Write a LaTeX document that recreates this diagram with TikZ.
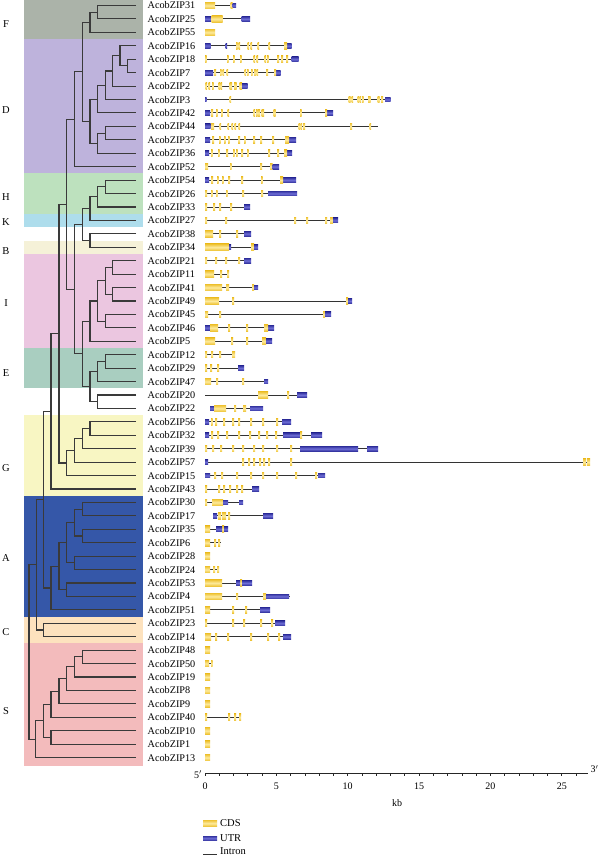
\documentclass[tikz,border=0pt]{standalone}
\usepackage{fontspec}
\setmainfont{Liberation Serif}
\definecolor{bF}{HTML}{ABB3A9}
\definecolor{bD}{HTML}{BEB3DC}
\definecolor{bH}{HTML}{BDE1BE}
\definecolor{bK}{HTML}{AEDDEC}
\definecolor{bB}{HTML}{F5F1D8}
\definecolor{bI}{HTML}{EBC6E0}
\definecolor{bE}{HTML}{A9CEC0}
\definecolor{bG}{HTML}{F8F6C3}
\definecolor{bA}{HTML}{3557A8}
\definecolor{bC}{HTML}{FDE2BE}
\definecolor{bS}{HTML}{F3BBBC}
\definecolor{treec}{HTML}{3A3A3A}
\definecolor{cdsD}{HTML}{EEC232}
\definecolor{cdsL}{HTML}{FDEA9C}
\definecolor{utrD}{HTML}{3434A0}
\definecolor{utrL}{HTML}{6E6ED6}
\newcommand\ry[1]{5.5+13.43*(#1)}
\newcommand\tn[3]{\coordinate (#1) at (#2,{\ry{#3}});}
\newcommand\tedge[3]{\draw[treeline] (#2) -| (#1) |- (#3);}
\newcommand\gintron[3]{\draw[intron] (#2,{\ry{#1}}) -- (#3,{\ry{#1}});}
\newcommand\gcds[2]{\foreach \xa/\xb in {#2}{\path[cdsbox] (\xa,{\ry{#1}-3.3}) rectangle (\xb,{\ry{#1}+3.3});}}
\newcommand\gutr[2]{\foreach \xa/\xb in {#2}{\path[utrbox] (\xa,{\ry{#1}-2.4}) rectangle (\xb,{\ry{#1}+2.4});}}
\newcommand\band[4]{\fill[#1] (23.5,#2) rectangle (143,#3); \node[cladelab] (cl#1) at (6,#4) {#1};}
\begin{document}
\begin{tikzpicture}[x=1pt,y=-1pt,
  treeline/.style={draw=treec,line width=1.1pt,line join=miter},
  intron/.style={draw=black!80,line width=0.9pt},
  cdsbox/.style={top color=cdsD,bottom color=cdsD,middle color=cdsL},
  utrbox/.style={top color=utrD,bottom color=utrD,middle color=utrL},
  genelab/.style={anchor=west,inner sep=0pt,font=\fontsize{10.2}{12}\selectfont},
  cladelab/.style={inner sep=0pt,font=\fontsize{10.5}{12}\selectfont},
  ticklab/.style={inner sep=0pt,font=\fontsize{10}{12}\selectfont},
  leglab/.style={anchor=west,inner sep=0pt,font=\fontsize{10.5}{12}\selectfont}]
\useasboundingbox (0,0) rectangle (600,860);
\fill[white] (0,0) rectangle (600,860);
% clade bands
\fill[bF] (23.5,0) rectangle (143,{\ry{2.5}});
\fill[bD] (23.5,{\ry{2.5}}) rectangle (143,{\ry{12.5}});
\fill[bH] (23.5,{\ry{12.5}}) rectangle (143,{\ry{15.5}});
\fill[bK] (23.5,{\ry{15.5}}) rectangle (143,{\ry{16.5}});
\fill[bB] (23.5,{\ry{17.5}}) rectangle (143,{\ry{18.5}});
\fill[bI] (23.5,{\ry{18.5}}) rectangle (143,{\ry{25.5}});
\fill[bE] (23.5,{\ry{25.5}}) rectangle (143,{\ry{28.5}});
\fill[bG] (23.5,{\ry{30.5}}) rectangle (143,{\ry{36.5}});
\fill[bA] (23.5,{\ry{36.5}}) rectangle (143,{\ry{45.5}});
\fill[bC] (23.5,{\ry{45.5}}) rectangle (143,{\ry{47.5}});
\fill[bS] (23.5,{\ry{47.5}}) rectangle (143,765.5);
\node[cladelab] (cF) at (6,24) {F};
\node[cladelab] (cD) at (6,110) {D};
\node[cladelab] (cH) at (6,197) {H};
\node[cladelab] (cK) at (6,222) {K};
\node[cladelab] (cB) at (6,251) {B};
\node[cladelab] (cI) at (6,303) {I};
\node[cladelab] (cE) at (6,373) {E};
\node[cladelab] (cG) at (6,468) {G};
\node[cladelab] (cA) at (6,558) {A};
\node[cladelab] (cC) at (6,632) {C};
\node[cladelab] (cS) at (6,711) {S};
% leaves
\foreach \nm [count=\i from 0] in {31,25,55,16,18,7,2,3,42,44,37,36,52,54,26,33,27,38,34,21,11,41,49,45,46,5,12,29,47,20,22,56,32,39,57,15,43,30,17,35,6,28,24,53,4,51,23,14,48,50,19,8,9,40,10,1,13}{
  \coordinate (l\i) at (136,{\ry{\i}});
  \node[genelab] (g\i) at (147.5,{\ry{\i}}) {AcobZIP\nm};
}
% internal nodes
\tn{a1}{97.7}{0.5} \tn{a2}{90}{1.25}
\tn{d1}{127.7}{4.5} \tn{d2}{120}{3.75} \tn{d3}{112.3}{4.875} \tn{d4}{105.7}{5.9375}
\tn{d5}{97.7}{6.96875} \tn{d6}{105.7}{9.5} \tn{d7}{97.7}{10.25} \tn{d8}{90}{8.609375}
\tn{fd}{82.7}{4.9296875} \tn{fdl}{74.3}{8.46484375}
\tn{h1}{105.7}{13.5} \tn{h2}{97.7}{14.25} \tn{hk}{90}{15.125} \tn{b1}{90}{17.5} \tn{hkb}{82.3}{16.3125}
\tn{i1}{112.3}{19.5} \tn{i2}{112.3}{21.5} \tn{i3}{105.7}{20.5} \tn{i4}{105.7}{23.5} \tn{i5}{97.7}{22} \tn{i6}{90}{23.5}
\tn{e1}{105.7}{26.5} \tn{e2}{97.7}{27.25} \tn{e3}{97.7}{29.5} \tn{e4}{90}{28.375}
\tn{ie}{82.3}{25.9375} \tn{hkbie}{74.3}{21.125} \tn{tp}{66.7}{14.794921875}
\tn{g1}{90}{31.5} \tn{g2}{82.3}{32.25} \tn{g3}{74.3}{33.125} \tn{g4}{66.7}{34.0625}
\tn{tg}{59}{24.4287109375} \tn{tft}{51}{30.21435546875}
\tn{p1}{82.3}{37.5} \tn{p2}{82.3}{39.5} \tn{p3}{74.3}{38.5} \tn{p4}{74.3}{41.5}
\tn{p5}{66.7}{40} \tn{p6}{66.7}{43.5} \tn{p7}{59}{41.75} \tn{p8}{51}{43.375}
\tn{ta}{43.3}{36.7947} \tn{c1}{43.3}{46.5} \tn{tac}{36.7}{41.6473}
\tn{s1}{82.3}{48.5} \tn{s2}{74.3}{49.25} \tn{s3}{66.7}{50.125} \tn{s4}{59}{51.0625}
\tn{s5}{51}{52.03125} \tn{s6}{51}{54.5} \tn{s7}{43.3}{53.265625} \tn{s8}{35.7}{54.6328125}
\tn{root}{29}{48.14}
% tree edges
\tedge{a1}{l0}{l1} \tedge{a2}{a1}{l2}
\tedge{d1}{l4}{l5} \tedge{d2}{l3}{d1} \tedge{d3}{d2}{l6} \tedge{d4}{d3}{l7} \tedge{d5}{d4}{l8}
\tedge{d6}{l9}{l10} \tedge{d7}{d6}{l11} \tedge{d8}{d5}{d7} \tedge{fd}{a2}{d8} \tedge{fdl}{fd}{l12}
\tedge{h1}{l13}{l14} \tedge{h2}{h1}{l15} \tedge{hk}{h2}{l16} \tedge{b1}{l17}{l18} \tedge{hkb}{hk}{b1}
\tedge{i1}{l19}{l20} \tedge{i2}{l21}{l22} \tedge{i3}{i1}{i2} \tedge{i4}{l23}{l24} \tedge{i5}{i3}{i4} \tedge{i6}{i5}{l25}
\tedge{e1}{l26}{l27} \tedge{e2}{e1}{l28} \tedge{e3}{l29}{l30} \tedge{e4}{e2}{e3}
\tedge{ie}{i6}{e4} \tedge{hkbie}{hkb}{ie} \tedge{tp}{fdl}{hkbie}
\tedge{g1}{l31}{l32} \tedge{g2}{g1}{l33} \tedge{g3}{g2}{l34} \tedge{g4}{g3}{l35}
\tedge{tg}{tp}{g4} \tedge{tft}{tg}{l36}
\tedge{p1}{l37}{l38} \tedge{p2}{l39}{l40} \tedge{p3}{p1}{p2} \tedge{p4}{l41}{l42}
\tedge{p5}{p3}{p4} \tedge{p6}{l43}{l44} \tedge{p7}{p5}{p6} \tedge{p8}{p7}{l45}
\tedge{ta}{tft}{p8} \tedge{c1}{l46}{l47} \tedge{tac}{ta}{c1}
\tedge{s1}{l48}{l49} \tedge{s2}{s1}{l50} \tedge{s3}{s2}{l51} \tedge{s4}{s3}{l52}
\tedge{s5}{s4}{l53} \tedge{s6}{l54}{l55} \tedge{s7}{s5}{s6} \tedge{s8}{s7}{l56}
\tedge{root}{tac}{s8}
% gene structures
\gintron{0}{205}{233} \gcds{0}{205/215,230.5/232.5} \gutr{0}{232.5/236}
\gintron{1}{205}{250} \gutr{1}{205/211.5,241.5/250} \gcds{1}{211.5/222.5}
\gcds{2}{205/215}
\gintron{3}{205}{291} \gutr{3}{205/210.5,225.5/227,287/291.5} \gcds{3}{236/237.5,238.5/240,247.5/249,250.5/252,257.5/259,268.5/270,284/287}
\gintron{4}{205}{298} \gcds{4}{205/206.5,227/228.5,233/234.5,240/241.5,253.5/255,256.5/258,264.5/266,267/268.5,277/279,281/283,286/288} \gutr{4}{291.5/298.5}
\gintron{5}{205}{280} \gutr{5}{205/213,276/280.5} \gcds{5}{214/216,220/221.5,222.5/224,226.5/228,244.5/246,247/248.5,251/252.5,254/256,256.5/258,266/268,274/276}
\gintron{6}{205}{247} \gcds{6}{205.5/207,208.5/210,212/213.5,218.5/220,220.5/222,229.5/232,234/236.5,239.5/242} \gutr{6}{242/247.5}
\gintron{7}{205}{390} \gutr{7}{205/206.5,385/390.5} \gcds{7}{229.5/231,348.5/350.5,351.5/353,357.5/359,359.5/361,362/363.5,368/370.5,377.5/379.5,381/383}
\gintron{8}{205}{333} \gutr{8}{205/210,327/333} \gcds{8}{211/213,216/217.5,221/222.5,227.5/229,253.5/255,256/257.5,258/260,261.5/264,273.5/275.5,300/301.5,325/327}
\gintron{9}{205}{378} \gutr{9}{205/210.5} \gcds{9}{211/214,219.5/221,227.5/229,231.5/233,234.5/236,238.5/240,298.5/300,300.5/302,303/305,350/352,369.5/371}
\gintron{10}{205}{296} \gutr{10}{205/210,289/296} \gcds{10}{212/214,219/220.5,224/225.5,228/229.5,238/240,244/245.5,253/255,260/262,272/274,285/289}
\gintron{11}{205}{292} \gutr{11}{205/209,287/292} \gcds{11}{211/212.5,218/219.5,226/228,233/234.5,236/237.5,241/243,247/248.5,268/270,277/279,284/287}
\gintron{12}{205}{279} \gcds{12}{205/208,230/231.5,260/262,270/272.5} \gutr{12}{272.5/279}
\gintron{13}{205}{296} \gutr{13}{205/209,283/296} \gcds{13}{211/213,217/218.5,222/223.5,228/230,241/243,261/262.5,280/283}
\gintron{14}{205}{297} \gcds{14}{205/207,211/212.5,216/217.5,226/227.5,242/244,261/263} \gutr{14}{268/297}
\gintron{15}{205}{250} \gcds{15}{205/207,213/215,219/221,230/232} \gutr{15}{244/250}
\gintron{16}{205}{338} \gcds{16}{205/207,225/227,294/296,306/308,325/327,330/333} \gutr{16}{333/338}
\gintron{17}{205}{251} \gcds{17}{205/213,219/221,236/238} \gutr{17}{244/251}
\gintron{18}{205}{258} \gcds{18}{205/229,251/254} \gutr{18}{229/231,254/258}
\gintron{19}{205}{251} \gcds{19}{205/207,215/217,225/227,238/240} \gutr{19}{244/251}
\gintron{20}{205}{229} \gcds{20}{205/214,220/222,227/229}
\gintron{21}{205}{258} \gcds{21}{205/222,226/229,252/254} \gutr{21}{254/258}
\gintron{22}{205}{352} \gcds{22}{205/219,232/234,346/348} \gutr{22}{348/352}
\gintron{23}{205}{331} \gcds{23}{205/208,219/221,323/325} \gutr{23}{325/331}
\gintron{24}{205}{274} \gutr{24}{205/210,268/274} \gcds{24}{210/218,228/230,246/248,264/268}
\gintron{25}{205}{272} \gcds{25}{205/215,231/233,246/248,262/266} \gutr{25}{266/272}
\gintron{26}{205}{235} \gcds{26}{205/207,211/213,219/221,232/235}
\gintron{27}{205}{244} \gcds{27}{205/207,210/212,217/219} \gutr{27}{238/244}
\gintron{28}{205}{268} \gcds{28}{205/211,216/218,242/244} \gutr{28}{264/268}
\gintron{29}{205}{307} \gcds{29}{258/268,287/289} \gutr{29}{297/307}
\gintron{30}{210}{263} \gutr{30}{210/214,250/263} \gcds{30}{214/226,234/236,243/246}
\gintron{31}{205}{291} \gutr{31}{205/209,282/291} \gcds{31}{211/212.5,215/217,223/225,232/234,238/240,250/252,262/264,276/278}
\gintron{32}{205}{322} \gutr{32}{205/209,283/300,311/322} \gcds{32}{211/213,217/219,226/228,238/240,249/251,258/260,266/268,275/277,300/302}
\gintron{33}{205}{378} \gcds{33}{205/207,212/214,220/222,232/234,242/244,253/255,262/264,276/278,290/292} \gutr{33}{300/358,367/378}
\gintron{34}{205}{590} \gutr{34}{205/208} \gcds{34}{242/244,248/250,253/255,259/261,263/265,268/270,290/292,583/586,587/590}
\gintron{35}{205}{325} \gutr{35}{205/210,318/325} \gcds{35}{214/216,221/223,236/238,250/252,262/264,276/278,295/297,315/317}
\gintron{36}{205}{259} \gcds{36}{205/207,218/220,223/225,229/231,236/238,241/243} \gutr{36}{252/259}
\gintron{37}{205}{243} \gcds{37}{205/207,212/223} \gutr{37}{223/228,239/243}
\gintron{38}{213}{273} \gutr{38}{213/217,263/273} \gcds{38}{218/221,222/226,228/230}
\gintron{39}{205}{228} \gcds{39}{205/210,222/224} \gutr{39}{216/222,224/228}
\gintron{40}{205}{221} \gcds{40}{205/210,214/216,218/220}
\gcds{41}{205/210}
\gintron{42}{205}{219} \gcds{42}{205/210,213/215,217/219}
\gintron{43}{205}{252} \gcds{43}{205/222,240/242} \gutr{43}{236/240,242/252}
\gintron{44}{205}{290} \gcds{44}{205/222,236/238,263/266} \gutr{44}{266/289}
\gintron{45}{205}{270} \gcds{45}{205/210,232/234,245/247} \gutr{45}{260/270}
\gintron{46}{205}{285} \gcds{46}{205/207,232/234,243/245,260/262,271/273} \gutr{46}{275/285}
\gintron{47}{205}{291} \gcds{47}{205/211,215/217,227/229,250/252,267/269,278/280} \gutr{47}{283/291}
\gcds{48}{205/210}
\gintron{49}{205}{212} \gcds{49}{205/209,211/212.5}
\gcds{50}{205/210} \gcds{51}{205/210} \gcds{52}{205/210}
\gintron{53}{205}{241} \gcds{53}{205/207,228/230,234/236,239/241}
\gcds{54}{205/210} \gcds{55}{205/210} \gcds{56}{205/210}
% axis
\coordinate (ax0) at (205,773);
\coordinate (ax1) at (588,773);
\draw[line width=0.9pt,black!85] (ax0) -- (ax1);
\foreach \k in {0,...,26}{\draw[line width=0.7pt,black!85] ({205+14.27*\k},773) -- ++(0,2.6);}
\foreach \k in {0,5,10,15,20,25}{\node[ticklab] (t\k) at ({205+14.27*\k},786) {\k};}
\node[ticklab] (kb) at (397,803.5) {kb};
\node[ticklab] (p5) at (198,774.5) {5$'$};
\node[ticklab] (p3) at (594.5,769) {3$'$};
% legend
\path[cdsbox] (203,820) rectangle (217,826.5);
\node[leglab] (lcds) at (220,823) {CDS};
\path[utrbox] (203,836) rectangle (217,840.5);
\node[leglab] (lutr) at (220,838) {UTR};
\coordinate (lin0) at (203,854);
\coordinate (lin1) at (217,854);
\draw[intron] (lin0) -- (lin1);
\node[leglab] (lint) at (220,851.5) {Intron};
\end{tikzpicture}
\end{document}
